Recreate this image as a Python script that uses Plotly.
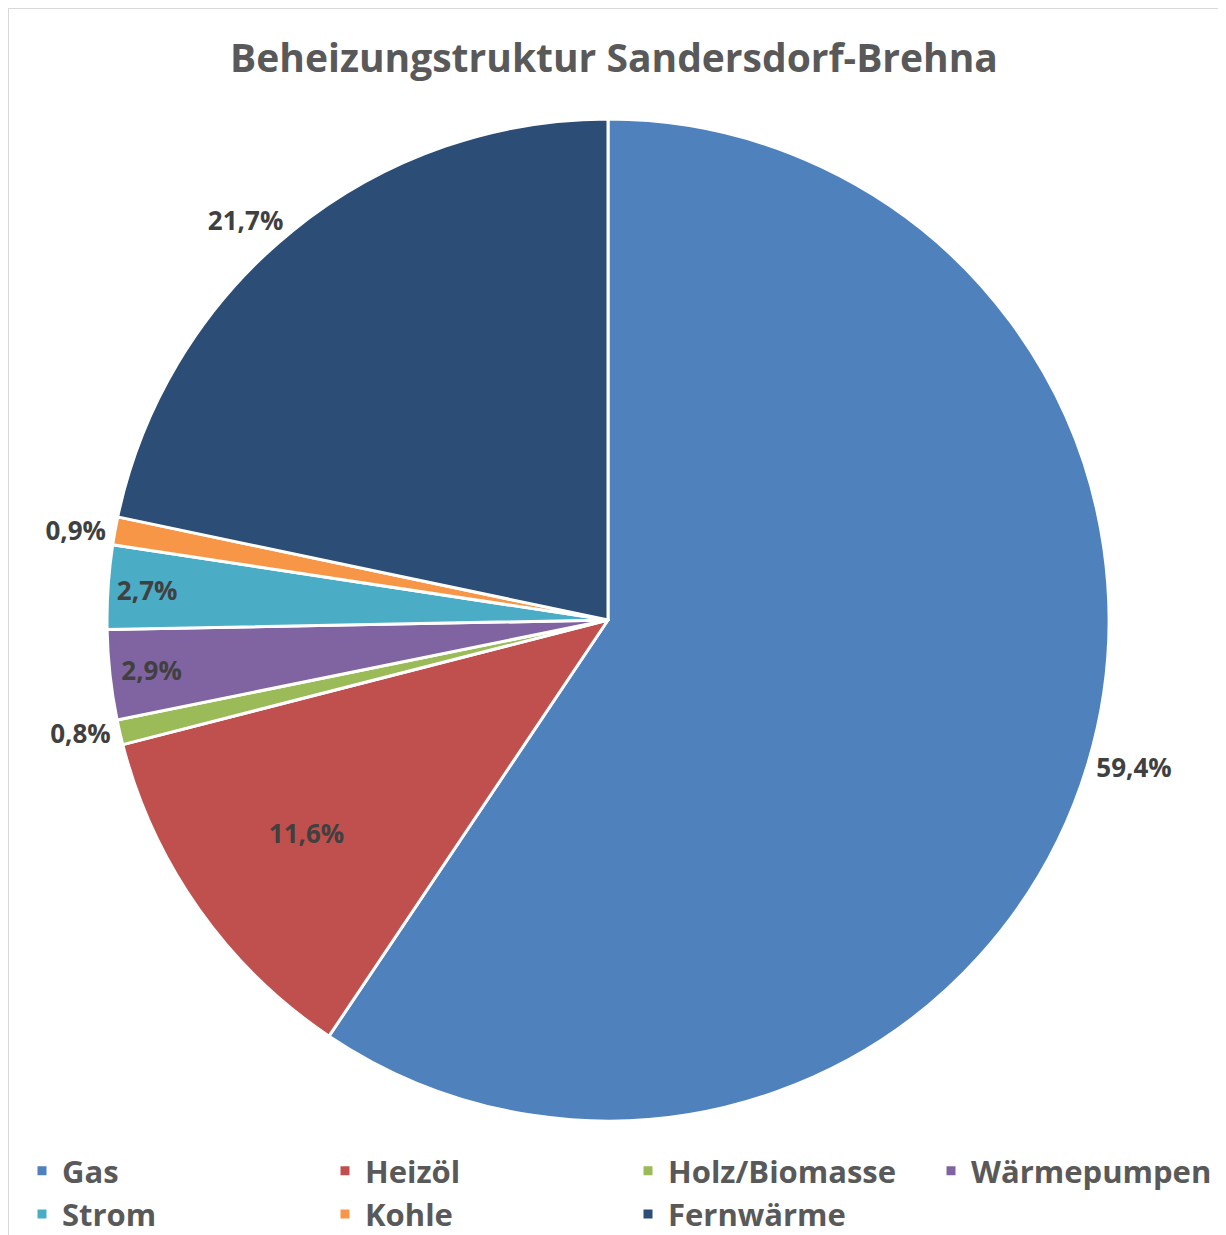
import plotly.graph_objects as go

categories = ["Gas", "Heizöl", "Holz/Biomasse", "Wärmepumpen", "Strom", "Kohle", "Fernwärme"]
values = [59.4, 11.6, 0.8, 2.9, 2.7, 0.9, 21.7]
colors = ["#4F81BD", "#C0504D", "#9BBB59", "#8064A2", "#4BACC6", "#F79646", "#2C4D75"]
text_positions = ["outside", "inside", "outside", "inside", "inside", "outside", "outside"]
title_text = "Beheizungstruktur Sandersdorf-Brehna"

W, H = 1226, 1235
FONT = "Open Sans"
# the page body adds an 8px offset; layout pixel targets are given in figure coordinates
CX, CY, R = 600, 612, 501

fig = go.Figure()
fig.add_trace(go.Pie(
    labels=categories,
    values=values,
    sort=False,
    direction="clockwise",
    rotation=0,
    marker=dict(colors=colors, line=dict(color="white", width=3)),
    texttemplate="%{percent:.1%}",
    textposition=text_positions,
    insidetextorientation="horizontal",
    textfont=dict(family=FONT, size=26, color="#404040", weight="bold"),
    insidetextfont=dict(family=FONT, size=26, color="#404040", weight="bold"),
    outsidetextfont=dict(family=FONT, size=26, color="#404040", weight="bold"),
    domain=dict(x=[(CX - R) / W, (CX + R) / W], y=[1 - (CY + R) / H, 1 - (CY - R) / H]),
    hoverinfo="label+percent",
))

fig.update_layout(
    width=W,
    height=H,
    margin=dict(l=0, r=0, t=0, b=0, autoexpand=False),
    paper_bgcolor="white",
    plot_bgcolor="white",
    separators=",.",
    title=dict(
        text=title_text,
        x=606 / W,
        xanchor="center",
        y=1 - 50 / H,
        yanchor="middle",
        font=dict(family=FONT, size=39, color="#595959", weight="bold"),
    ),
    legend=dict(
        orientation="h",
        x=14 / W,
        xanchor="left",
        y=1 - 1136 / H,
        yanchor="top",
        entrywidth=258,
        entrywidthmode="pixels",
        font=dict(family=FONT, size=31, color="#595959", weight="bold"),
        traceorder="normal",
    ),
    shapes=[dict(
        type="rect", xref="paper", yref="paper",
        x0=0.0, x1=1212 / W, y0=-0.02, y1=1.0,
        line=dict(color="#D9D9D9", width=2), fillcolor="rgba(0,0,0,0)", layer="below",
    )],
)

fig.write_html("out.html")
